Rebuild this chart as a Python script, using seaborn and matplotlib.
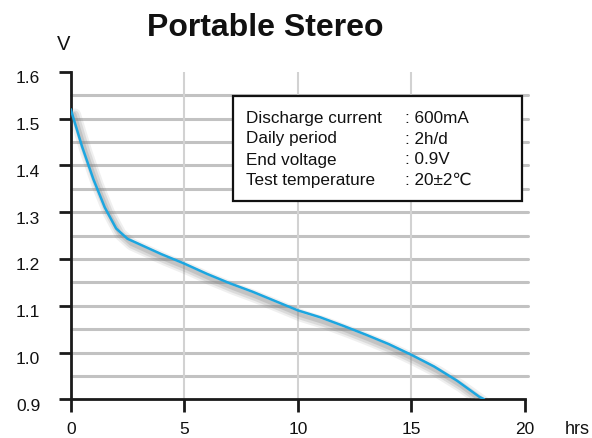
import matplotlib
matplotlib.use("Agg")
import matplotlib.pyplot as plt
import matplotlib.patheffects as pe
import matplotlib.transforms as mtransforms
import seaborn as sns
import pandas as pd

hours = [0, 0.5, 1, 1.5, 2, 2.5, 3, 4, 5, 6, 7, 8, 9, 10, 11, 12, 13, 14, 15, 16, 17, 18, 18.2]
volts = [1.52, 1.44, 1.37, 1.31, 1.265, 1.243, 1.232, 1.21, 1.19, 1.168, 1.148, 1.13, 1.11,
         1.09, 1.075, 1.057, 1.038, 1.018, 0.995, 0.97, 0.94, 0.905, 0.9]
x_ticks = [0, 5, 10, 15, 20]
y_ticks = [0.9, 1.0, 1.1, 1.2, 1.3, 1.4, 1.5, 1.6]
y_minor = [0.95, 1.0, 1.05, 1.1, 1.15, 1.2, 1.25, 1.3, 1.35, 1.4, 1.45, 1.5, 1.55]
info_labels = ["Discharge current", "Daily period", "End voltage", "Test temperature"]
info_values = [": 600mA", ": 2h/d", ": 0.9V", ": 20\u00b12\u2103"]

sns.set_theme(style="white")
plt.rcParams['font.family'] = ['Liberation Sans', 'DejaVu Sans']

fig = plt.figure(figsize=(5.92, 4.38), dpi=100)
ax = fig.add_axes([70.7/592, 1-399.3/438, 454.3/592, 327.6/438])

df = pd.DataFrame({"hrs": hours, "V": volts})

# grid
for v in y_minor:
    ax.axhline(v, xmax=1.006, color="#c2c2c2", lw=2.2, zorder=0, clip_on=False)
for h in x_ticks[1:4]:
    ax.axvline(h, color="#d2d2d2", lw=1.5, zorder=0)

shadows = [pe.SimpleLineShadow(offset=(3, -4), shadow_color="#808080", alpha=0.12, linewidth=9),
           pe.SimpleLineShadow(offset=(3, -4), shadow_color="#808080", alpha=0.18, linewidth=6),
           pe.SimpleLineShadow(offset=(2.5, -3.5), shadow_color="#808080", alpha=0.25, linewidth=3),
           pe.Normal()]
sns.lineplot(data=df, x="hrs", y="V", ax=ax, color="#1ca6e0", lw=1.8, zorder=3,
             path_effects=shadows)

ax.set_xlim(0, 20)
ax.set_ylim(0.9, 1.6)
ax.set_xticks(x_ticks)
ax.set_xticklabels([str(t) for t in x_ticks])
ax.set_yticks(y_ticks)
ax.set_yticklabels([f"{t:.1f}" for t in y_ticks])
ax.set_xlabel("")
ax.set_ylabel("")
for s in ["top", "right"]:
    ax.spines[s].set_visible(False)
for s in ["left", "bottom"]:
    ax.spines[s].set_color("#1a1a1a")
    ax.spines[s].set_linewidth(2)
ax.tick_params(axis="both", which="major", length=9, width=2, color="#1a1a1a",
               labelsize=12.5, labelcolor="#111111", direction="out", bottom=True, left=True)
ax.tick_params(axis="x", pad=7)
ax.tick_params(axis="y", pad=13)
off = mtransforms.ScaledTranslation(0, -4/72, fig.dpi_scale_trans)
for lab in ax.get_yticklabels():
    lab.set_transform(lab.get_transform() + off)

fig.text(265.5/592, 1-28/438, "Portable Stereo", ha="center", va="center",
         fontsize=23, fontweight="bold", color="#111111")
fig.text(63.5/592, 1-45/438, "V", ha="center", va="center", fontsize=14.5, color="#111111")
fig.text(577/592, 1-430/438, "hrs", ha="center", va="center", fontsize=13, color="#111111")

# info box
box = plt.Rectangle((233/592, 1-201/438), (522-233)/592, (201-96)/438, transform=fig.transFigure,
                    facecolor="white", edgecolor="#111111", lw=1.6, zorder=5)
fig.patches.append(box)
ys = [118.5, 139, 160, 180.5]
for lab, val, yy in zip(info_labels, info_values, ys):
    fig.text(246/592, 1-yy/438, lab, ha="left", va="center", fontsize=12.3, color="#111111", zorder=6)
    fig.text(405/592, 1-yy/438, val, ha="left", va="center", fontsize=12.3, color="#111111", zorder=6)

fig.savefig("out.png", dpi=100)
